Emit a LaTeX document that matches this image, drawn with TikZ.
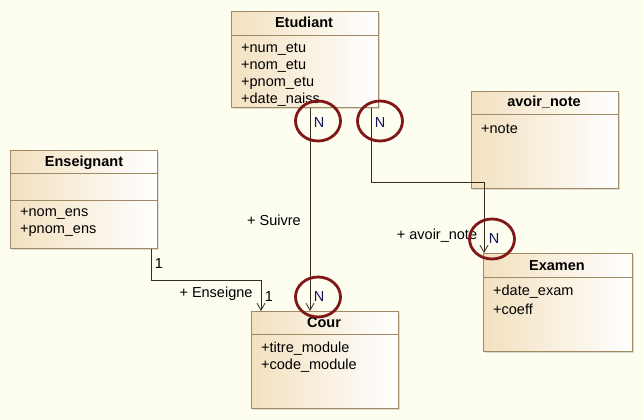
\documentclass[tikz,border=0pt]{standalone}
\usepackage{fontspec}
\setmainfont{Liberation Sans}
\usetikzlibrary{arrows.meta,shapes.geometric,calc,shadows}
\definecolor{bg}{RGB}{253,253,240}
\definecolor{boxtan}{RGB}{243,225,192}
\definecolor{boxline}{RGB}{160,138,100}
\definecolor{circred}{RGB}{128,22,22}
\definecolor{connc}{RGB}{55,45,35}
\definecolor{mult}{RGB}{20,20,90}
\tikzset{
  umlbox/.style={draw=boxline, line width=0.9pt, left color=boxtan, right color=white,
    anchor=north west, inner sep=0pt, minimum width=147pt,
    drop shadow={shadow xshift=2pt, shadow yshift=-2pt, opacity=0.25}},
  divider/.style={draw=boxline, line width=0.9pt},
  title/.style={font=\fontsize{14.5}{16}\selectfont\bfseries, inner sep=0pt},
  attr/.style={font=\fontsize{14.5}{16}\selectfont, anchor=west, inner sep=0pt},
  lbl/.style={font=\fontsize{14.5}{16}\selectfont, inner sep=0pt},
  multn/.style={font=\fontsize{14.5}{16}\selectfont, inner sep=0pt, text=mult},
  conn/.style={draw=connc, line width=0.8pt, -{Straight Barb[length=7pt,width=8pt]}},
  circ/.style={draw=circred, line width=2.8pt, ellipse, inner sep=0pt, minimum width=45pt, minimum height=40pt}
}
\begin{document}
\begin{tikzpicture}[x=1pt,y=-1pt]
\fill[bg] (0,0) rectangle (643,420);
\useasboundingbox (0,0) rectangle (643,420);

% Boxes
\node[umlbox, minimum height=96pt] (etu) at (231,11) {};
\node[umlbox, minimum height=98pt] (ens) at (10,150) {};
\node[umlbox, minimum height=97pt] (cour) at (251,311) {};
\node[umlbox, minimum height=97pt] (avn) at (471,91) {};
\node[umlbox, minimum width=149pt, minimum height=98pt] (exa) at (483,253) {};

% dividers
\draw[divider] ($(etu.north west)+(0,24)$) -- ($(etu.north east)+(0,24)$);
\draw[divider] ($(ens.north west)+(0,23)$) -- ($(ens.north east)+(0,23)$);
\draw[divider] ($(ens.north west)+(0,50)$) -- ($(ens.north east)+(0,50)$);
\draw[divider] ($(cour.north west)+(0,23)$) -- ($(cour.north east)+(0,23)$);
\draw[divider] ($(avn.north west)+(0,23)$) -- ($(avn.north east)+(0,23)$);
\draw[divider] ($(exa.north west)+(0,24)$) -- ($(exa.north east)+(0,24)$);

% titles
\node[title] (etut) at (304,22) {Etudiant};
\node[title] (enst) at (84,163) {Enseignant};
\node[title] (court) at (324,323) {Cour};
\node[title] (avnt) at (544,102) {avoir\_note};
\node[title] (exat) at (557,266) {Examen};

% attributes
\node[attr] (e1) at (241,49) {+num\_etu};
\node[attr] (e2) at (241,66) {+nom\_etu};
\node[attr] (e3) at (241,83) {+pnom\_etu};
\node[attr] (e4) at (241,100) {+date\_naiss};
\node[attr] (n1) at (20,214) {+nom\_ens};
\node[attr] (n2) at (20,231) {+pnom\_ens};
\node[attr] (c1) at (261,349) {+titre\_module};
\node[attr] (c2) at (261,366) {+code\_module};
\node[attr] (a1) at (481,129) {+note};
\node[attr] (x1) at (493,292) {+date\_exam};
\node[attr] (x2) at (493,309) {+coeff};

% connector x positions
\coordinate (xs) at (310,0);
\coordinate (xa1) at (371,0);
\coordinate (xa2) at (484,0);
\coordinate (ya) at (0,182);
\coordinate (xe1) at (151,0);
\coordinate (xe2) at (261,0);
\coordinate (ye) at (0,280);

% Suivre
\draw[conn] (etu.south -| xs) -- (cour.north -| xs);
% avoir_note
\draw[conn] (etu.south -| xa1) -- (xa1 |- ya) -| (exa.north -| xa2);
% Enseigne
\draw[conn] (ens.south -| xe1) -- (xe1 |- ye) -| (cour.north -| xe2);

% labels
\node[lbl] (lsuiv) at (274,220) {+ Suivre};
\node[lbl] (lens) at (216,294) {+ Enseigne};
\node[lbl] (lavn) at (437,236) {+ avoir\_note};
\node[lbl] (m1a) at (159,264) {1};
\node[lbl] (m1b) at (269,297) {1};
\node[multn] (mn1) at (319,123) {N};
\node[multn] (mn2) at (380,123) {N};
\node[multn] (mn3) at (319,297) {N};
\node[multn] (mn4) at (494,239) {N};

% red circles
\node[circ] (o1) at (318,121) {};
\node[circ] (o2) at (380,121) {};
\node[circ] (o3) at (318,297) {};
\node[circ] (o4) at (492,239) {};
\end{tikzpicture}
\end{document}
